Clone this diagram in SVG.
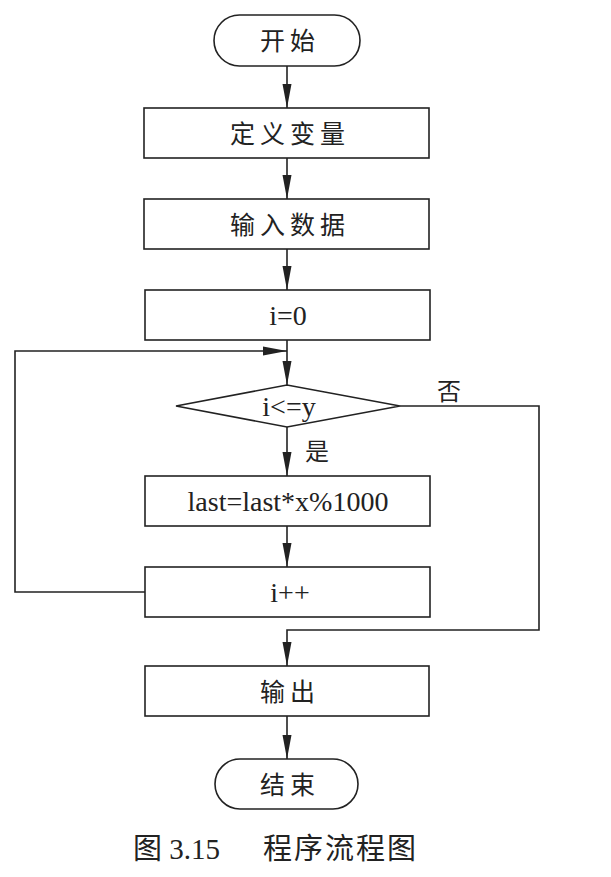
<svg xmlns="http://www.w3.org/2000/svg" width="611" height="877" viewBox="0 0 611 877">
<defs>
<style>
.box{fill:#fff;stroke:#222;stroke-width:1.6}
.ln{fill:none;stroke:#222;stroke-width:1.6}
.cjk{font-family:"Liberation Serif","Noto Sans CJK SC",serif;font-size:25px;letter-spacing:5px;fill:#222;text-anchor:middle;dominant-baseline:central}
.lat{font-family:"Liberation Serif",serif;font-size:28px;fill:#222;text-anchor:middle;dominant-baseline:central}
.lbl{font-family:"Liberation Serif","Noto Sans CJK SC",serif;font-size:24px;fill:#222;text-anchor:middle;dominant-baseline:central}
.cap{font-family:"Liberation Serif","Noto Sans CJK SC",serif;font-size:29px;fill:#222}
</style>
<marker id="arr" markerUnits="userSpaceOnUse" markerWidth="24" markerHeight="10" refX="24" refY="5" orient="auto">
<path d="M0,0.5 L24,5 L0,9.5 z" fill="#222"/>
</marker>
</defs>
<rect width="611" height="877" fill="#fff"/>
<g id="connectors">
<line class="ln" x1="287" y1="66" x2="287" y2="108" marker-end="url(#arr)"/>
<line class="ln" x1="287" y1="158" x2="287" y2="199" marker-end="url(#arr)"/>
<line class="ln" x1="287" y1="249" x2="287" y2="290" marker-end="url(#arr)"/>
<line class="ln" x1="287" y1="340" x2="287" y2="385" marker-end="url(#arr)"/>
<line class="ln" x1="287" y1="427" x2="287" y2="476" marker-end="url(#arr)"/>
<line class="ln" x1="287" y1="526" x2="287" y2="567" marker-end="url(#arr)"/>
<polyline class="ln" points="146,592 15,592 15,351 287,351" marker-end="url(#arr)"/>
<polyline class="ln" points="400,406 539,406 539,630 287,630 287,666" marker-end="url(#arr)"/>
<line class="ln" x1="287" y1="716" x2="287" y2="759" marker-end="url(#arr)"/>
<text class="lbl" x="449" y="392">否</text>
<text class="lbl" x="317" y="452">是</text>
</g>
<g id="start"><rect class="box" x="214" y="15" width="146" height="51" rx="25.5"/><text class="cjk" x="290" y="41">开始</text></g>
<g id="define"><rect class="box" x="144" y="108" width="285" height="50"/><text class="cjk" x="290" y="134">定义变量</text></g>
<g id="input"><rect class="box" x="144" y="199" width="285" height="50"/><text class="cjk" x="290" y="225">输入数据</text></g>
<g id="init"><rect class="box" x="145" y="290" width="285" height="50"/><text class="lat" x="288" y="315">i=0</text></g>
<g id="cond"><polygon class="box" points="176,406 287,385 400,406 287,427"/><text class="lat" x="289" y="406">i&lt;=y</text></g>
<g id="calc"><rect class="box" x="145" y="476" width="285" height="50"/><text class="lat" x="288" y="501">last=last*x%1000</text></g>
<g id="inc"><rect class="box" x="145" y="567" width="285" height="50"/><text class="lat" x="290" y="592">i++</text></g>
<g id="output"><rect class="box" x="145" y="666" width="284" height="50"/><text class="cjk" x="290" y="692">输出</text></g>
<g id="end"><rect class="box" x="215" y="759" width="143" height="50" rx="25"/><text class="cjk" x="290" y="785">结束</text></g>
<g id="caption"><text class="cap" x="133" y="859">图 3.15</text><text class="cap" x="263" y="859" letter-spacing="2">程序流程图</text></g>
</svg>
